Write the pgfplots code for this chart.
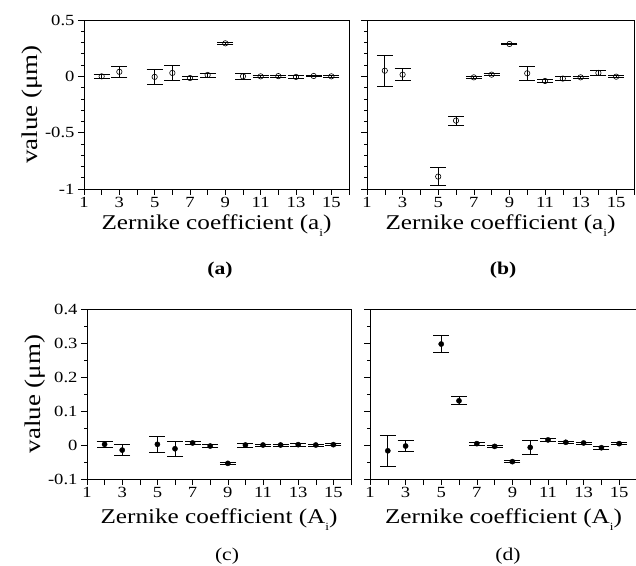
\documentclass[border=0pt]{standalone}
\usepackage{fontspec}
\setmainfont{Liberation Serif}
\usepackage{pgfplots}
\pgfplotsset{compat=1.18}
\newfontfamily\stretchfont[FakeStretch=1.2]{Liberation Serif}
\newcommand\tickfont{\stretchfont\fontsize{15.5}{15.5}\selectfont}
\newcommand\labfont{\stretchfont\fontsize{21}{21}\selectfont}
\newcommand\ylabfont{\stretchfont\fontsize{22.5}{22.5}\selectfont}
\newcommand\subi{\raisebox{-7pt}{\fontsize{11}{11}\selectfont i}}

\pgfplotstableread{
x y e
2 0 0.02
3 0.04 0.05
5 -0.005 0.07
6 0.03 0.068
7 -0.015 0.01
8 0.012 0.018
9 0.293 0.01
10 0 0.025
11 0 0.01
12 0.002 0.01
13 -0.005 0.012
14 0.003 0.008
15 0 0.012
}\dataA
\pgfplotstableread{
x y e
2 0.05 0.135
3 0.015 0.052
5 -0.89 0.08
6 -0.393 0.04
7 -0.009 0.012
8 0.015 0.01
9 0.287 0.008
10 0.027 0.06
11 -0.041 0.012
12 -0.02 0.015
13 -0.009 0.008
14 0.03 0.022
15 -0.003 0.01
}\dataB
\pgfplotstableread{
x y e
2 0.002 0.008
3 -0.015 0.016
5 0.002 0.024
6 -0.011 0.023
7 0.006 0.004
8 -0.003 0.005
9 -0.054 0.004
10 0 0.006
11 0 0.003
12 0 0.003
13 0.001 0.004
14 0 0.003
15 0.001 0.003
}\dataC
\pgfplotstableread{
x y e
2 -0.017 0.045
3 -0.003 0.017
5 0.297 0.026
6 0.130 0.012
7 0.004 0.004
8 -0.004 0.003
9 -0.049 0.003
10 -0.007 0.02
11 0.015 0.004
12 0.008 0.004
13 0.006 0.003
14 -0.008 0.005
15 0.004 0.003
}\dataD

\pgfplotsset{
  zstyle/.style={
    scale only axis,
    xmin=1, xmax=16,
    xtick={1,...,16},
    xticklabels={1,,3,,5,,7,,9,,11,,13,,15,},
    tick align=outside, xtick pos=bottom, ytick pos=left,
    major tick length=6pt, minor tick length=3pt,
    tick label style={font=\tickfont},
    xticklabel style={yshift=1pt},
    label style={font=\labfont},
    ylabel style={font=\ylabfont, xshift=0pt, yshift=-4pt},
    axis line style={line width=0.7pt},
    every tick/.style={black, line width=0.6pt},
    clip=false,
  },
  panelAB/.style={zstyle, width=265pt, height=169pt,
    ymin=-1, ymax=0.5, ytick={-1,-0.5,0,0.5}, minor y tick num=4,
    xlabel={Zernike coefficient (a\subi)}},
  panelCD/.style={zstyle, width=265pt, height=170pt,
    ymin=-0.1, ymax=0.4, ytick={-0.1,0,0.1,0.2,0.3,0.4}, minor y tick num=1,
    xlabel={Zernike coefficient (A\subi)},
    xlabel style={yshift=-4pt}},
  open/.style={black, only marks, mark=o, mark size=2.7pt, mark options={fill=white, line width=0.6pt},
    error bars/.cd, y dir=both, y explicit,
    error bar style={line width=0.7pt},
    error mark options={rotate=90, mark size=8pt, line width=0.8pt}},
  filled/.style={black, only marks, mark=*, mark size=2.6pt,
    error bars/.cd, y dir=both, y explicit,
    error bar style={line width=0.7pt},
    error mark options={rotate=90, mark size=8pt, line width=0.8pt}},
}

\begin{document}
\begin{tikzpicture}[x=1pt,y=1pt]
\path[use as bounding box] (0,0) rectangle (636,565);
% (a)
\begin{axis}[panelAB, at={(84pt,376pt)}, anchor=south west,
  yticklabels={-1,-0.5,0,0.5},
  ylabel={value (μm)}]
\addplot[open] table[x=x,y=y,y error=e]{\dataA};
\end{axis}
% (b)
\begin{axis}[panelAB, at={(367pt,376pt)}, anchor=south west, width=267pt,
  yticklabels={}]
\addplot[open] table[x=x,y=y,y error=e]{\dataB};
\end{axis}
% (c)
\begin{axis}[panelCD, at={(87pt,86pt)}, anchor=south west, width=264pt,
  yticklabels={-0.1,0,0.1,0.2,0.3,0.4},
  ylabel={value (μm)}]
\addplot[filled] table[x=x,y=y,y error=e]{\dataC};
\end{axis}
% (d)
\begin{axis}[panelCD, at={(370pt,86pt)}, anchor=south west, width=267pt,
  yticklabels={}]
\addplot[filled] table[x=x,y=y,y error=e]{\dataD};
\end{axis}
\node[font=\stretchfont\bfseries\fontsize{18}{18}\selectfont] at (220,295) {(a)};
\node[font=\stretchfont\bfseries\fontsize{18}{18}\selectfont] at (503,295) {(b)};
\node[font=\stretchfont\fontsize{18}{18}\selectfont] at (227,9) {(c)};
\node[font=\stretchfont\fontsize{18}{18}\selectfont] at (508,9) {(d)};
\end{tikzpicture}
\end{document}
